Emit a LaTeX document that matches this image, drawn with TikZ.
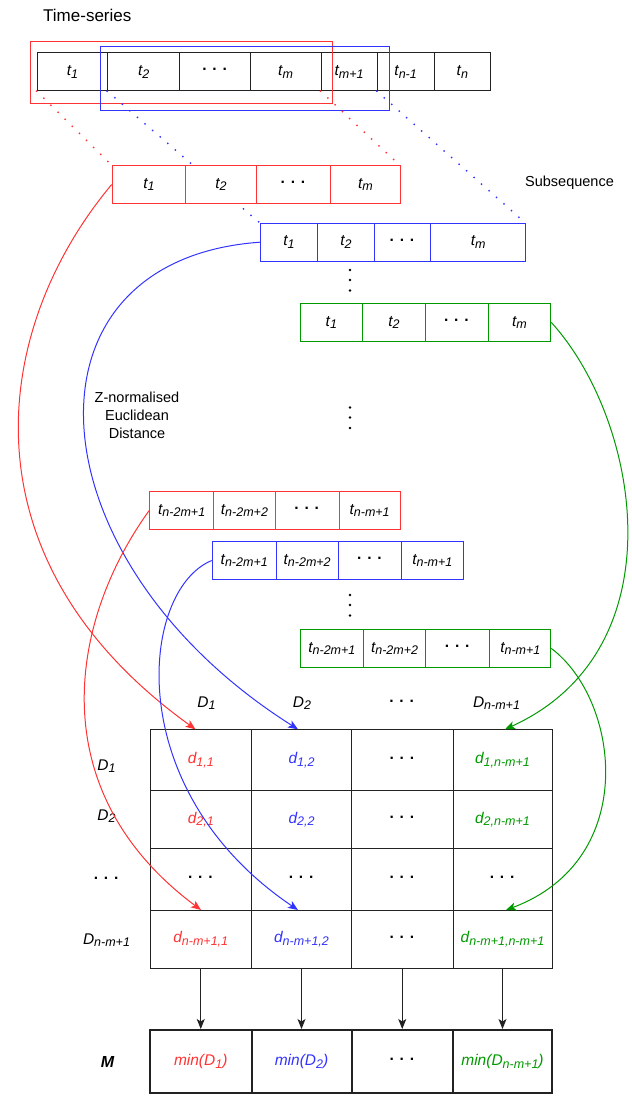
\documentclass[tikz,border=0pt]{standalone}
\usepackage{fontspec}
\setmainfont{Liberation Sans}
\usetikzlibrary{arrows.meta}
\definecolor{cred}{RGB}{255,51,51}
\definecolor{cblue}{RGB}{51,51,255}
\definecolor{cgreen}{RGB}{0,153,0}
\definecolor{cblack}{RGB}{34,34,34}
\newcommand\sbs[1]{\raisebox{-0.32ex}{\fontsize{12.5}{12.5}\selectfont #1}}
\newcommand\hdt{{\bfseries\upshape ·\hspace{5pt}·\hspace{5pt}·}}
\newcommand\cl[7]{%
  \pgfmathsetmacro\cw{#4-#3}\pgfmathsetmacro\cx{(#3+#4)/2}%
  \node[#1, minimum width=\cw pt, minimum height=#6pt] (#2) at (\cx,#5) {#7};}
\begin{document}
\begin{tikzpicture}[x=1pt,y=-1pt,
  cellbase/.style={rectangle, draw, fill=white, line width=1pt, inner sep=0pt,
    font=\fontsize{15.5}{17}\selectfont\itshape},
  cbk/.style={cellbase, draw=cblack},
  crd/.style={cellbase, draw=cred},
  cbl/.style={cellbase, draw=cblue},
  cgr/.style={cellbase, draw=cgreen},
  mbox/.style={cellbase, draw=cblack, line width=2pt},
  lbl/.style={inner sep=0pt, font=\fontsize{15.5}{17}\selectfont\itshape},
  plain/.style={inner sep=0pt, font=\fontsize{14.5}{18}\selectfont},
  dotc/.style={circle, fill=black, inner sep=0pt, minimum size=2.6pt},
  dotl/.style={line width=2pt, line cap=round, dash pattern=on 0pt off 10pt},
  curve/.style={line width=1pt, -{Stealth[length=10pt,width=8pt,inset=2.5pt]}},
  arr/.style={line width=1pt, cblack, -{Stealth[length=10pt,width=8pt,inset=2.5pt]}}]
\useasboundingbox (0,0) rectangle (632,1096);

% title
\node[inner sep=0pt, anchor=west, font=\fontsize{17}{20}\selectfont] (title) at (43,15) {Time-series};

% top row
\cl{cbk}{ts1}{37.2}{107.7}{71.7}{38}{t\sbs{1}}
\cl{cbk}{ts2}{107.7}{179.8}{71.7}{38}{t\sbs{2}}
\cl{cbk}{ts3}{179.8}{250.2}{71.7}{38}{\hdt}
\cl{cbk}{ts4}{250.2}{321}{71.7}{38}{t\sbs{m}}
\cl{cbk}{ts5}{321}{377.3}{71.7}{38}{t\sbs{m+1}}
\cl{cbk}{ts6}{377.3}{434}{71.7}{38}{t\sbs{n-1}}
\cl{cbk}{ts7}{434}{490.7}{71.7}{38}{t\sbs{n}}
\draw[cred, line width=1pt] (30.8,41) rectangle (332.8,103);
\draw[cblue, line width=1pt] (100,46.7) rectangle (389.5,110);

\coordinate (rsTL) at (112.2,165.7);
\coordinate (rsTR) at (400.3,165.7);
\coordinate (bsTL) at (260.3,223.3);
\coordinate (bsTR) at (525.8,223.3);
\draw[cred, dotl] (ts1.south west) -- (rsTL);
\draw[cred, dotl] (ts5.south west) -- (rsTR);
\draw[cblue, dotl] (ts2.south west) -- (bsTL);
\draw[cblue, dotl] (ts6.south west) -- (bsTR);

\cl{crd}{rs1a}{112.2}{185.8}{184.5}{37.6}{t\sbs{1}}
\cl{crd}{rs1b}{185.8}{256.3}{184.5}{37.6}{t\sbs{2}}
\cl{crd}{rs1c}{256.3}{330.5}{184.5}{37.6}{\hdt}
\cl{crd}{rs1d}{330.5}{400.3}{184.5}{37.6}{t\sbs{m}}

\node[plain] (subseq) at (569.5,183) {Subsequence};

\cl{cbl}{bs1a}{260.3}{317.6}{242.2}{37.7}{t\sbs{1}}
\cl{cbl}{bs1b}{317.6}{374.2}{242.2}{37.7}{t\sbs{2}}
\cl{cbl}{bs1c}{374.2}{430.5}{242.2}{37.7}{\hdt}
\cl{cbl}{bs1d}{430.5}{525.8}{242.2}{37.7}{t\sbs{m}}

\node[dotc] (vd1a) at (350,270) {};
\node[dotc] (vd1b) at (350,280) {};
\node[dotc] (vd1c) at (350,290.5) {};

\cl{cgr}{gs1a}{300}{362.7}{322.4}{37.3}{t\sbs{1}}
\cl{cgr}{gs1b}{362.7}{425.4}{322.4}{37.3}{t\sbs{2}}
\cl{cgr}{gs1c}{425.4}{488.1}{322.4}{37.3}{\hdt}
\cl{cgr}{gs1d}{488.1}{550.8}{322.4}{37.3}{t\sbs{m}}

\node[plain, align=center] (zed) at (137,415) {Z-normalised\\Euclidean\\Distance};
\node[dotc] (vd2a) at (350,407.5) {};
\node[dotc] (vd2b) at (350,417.5) {};
\node[dotc] (vd2c) at (350,428) {};

\cl{crd}{rs2a}{149.8}{213.6}{510.4}{37.3}{t\sbs{n-2m+1}}
\cl{crd}{rs2b}{213.6}{275.3}{510.4}{37.3}{t\sbs{n-2m+2}}
\cl{crd}{rs2c}{275.3}{339}{510.4}{37.3}{\hdt}
\cl{crd}{rs2d}{339}{400.3}{510.4}{37.3}{t\sbs{n-m+1}}

\cl{cbl}{bs2a}{212.2}{276.3}{560.5}{37.6}{t\sbs{n-2m+1}}
\cl{cbl}{bs2b}{276.3}{338}{560.5}{37.6}{t\sbs{n-2m+2}}
\cl{cbl}{bs2c}{338}{401.7}{560.5}{37.6}{\hdt}
\cl{cbl}{bs2d}{401.7}{463}{560.5}{37.6}{t\sbs{n-m+1}}

\node[dotc] (vd3a) at (350,595) {};
\node[dotc] (vd3b) at (350,605) {};
\node[dotc] (vd3c) at (350,615.5) {};

\cl{cgr}{gs2a}{300}{363.7}{648.4}{37.3}{t\sbs{n-2m+1}}
\cl{cgr}{gs2b}{363.7}{425.4}{648.4}{37.3}{t\sbs{n-2m+2}}
\cl{cgr}{gs2c}{425.4}{489.8}{648.4}{37.3}{\hdt}
\cl{cgr}{gs2d}{489.8}{550.8}{648.4}{37.3}{t\sbs{n-m+1}}

\node[lbl] (c1) at (206.5,703) {D\sbs{1}};
\node[lbl] (c2) at (302,703) {D\sbs{2}};
\node[lbl] (c3) at (402,703) {\hdt};
\node[lbl] (c4) at (496.5,703) {D\sbs{n-m+1}};
\node[lbl] (r1) at (106.5,766) {D\sbs{1}};
\node[lbl] (r2) at (106.5,816) {D\sbs{2}};
\node[lbl] (r3) at (106.5,880) {\hdt};
\node[lbl] (r4) at (106.5,940) {D\sbs{n-m+1}};

\cl{cbk, text=cred}{m11}{150}{251.5}{760}{61.4}{d\sbs{1,1}}
\cl{cbk, text=cblue}{m12}{251.5}{351.5}{760}{61.4}{d\sbs{1,2}}
\cl{cbk}{m13}{351.5}{453}{760}{61.4}{\hdt}
\cl{cbk, text=cgreen}{m14}{453}{552}{760}{61.4}{d\sbs{1,n-m+1}}
\cl{cbk, text=cred}{m21}{150}{251.5}{819.5}{57.6}{d\sbs{2,1}}
\cl{cbk, text=cblue}{m22}{251.5}{351.5}{819.5}{57.6}{d\sbs{2,2}}
\cl{cbk}{m23}{351.5}{453}{819.5}{57.6}{\hdt}
\cl{cbk, text=cgreen}{m24}{453}{552}{819.5}{57.6}{d\sbs{2,n-m+1}}
\cl{cbk}{m31}{150}{251.5}{879.2}{61.7}{\hdt}
\cl{cbk}{m32}{251.5}{351.5}{879.2}{61.7}{\hdt}
\cl{cbk}{m33}{351.5}{453}{879.2}{61.7}{\hdt}
\cl{cbk}{m34}{453}{552}{879.2}{61.7}{\hdt}
\cl{cbk, text=cred}{m41}{150}{251.5}{939}{58}{d\sbs{n-m+1,1}}
\cl{cbk, text=cblue}{m42}{251.5}{351.5}{939}{58}{d\sbs{n-m+1,2}}
\cl{cbk}{m43}{351.5}{453}{939}{58}{\hdt}
\cl{cbk, text=cgreen}{m44}{453}{552}{939}{58}{d\sbs{n-m+1,n-m+1}}

\node[inner sep=0pt, font=\fontsize{16}{18}\selectfont\bfseries\itshape] (mlab) at (107.6,1061.5) {M};
\cl{mbox, text=cred}{M1}{150}{251.5}{1061.5}{63}{min(D\sbs{1})}
\cl{mbox, text=cblue}{M2}{251.5}{351.5}{1061.5}{63}{min(D\sbs{2})}
\cl{mbox}{M3}{351.5}{453}{1061.5}{63}{\hdt}
\cl{mbox, text=cgreen}{M4}{453}{552}{1061.5}{63}{min(D\sbs{n-m+1})}

\draw[arr] (m41.south) -- (M1.north);
\draw[arr] (m42.south) -- (M2.north);
\draw[arr] (m43.south) -- (M3.north);
\draw[arr] (m44.south) -- (M4.north);

\coordinate (er1) at (195.5,729.3);
\coordinate (eb1) at (298,729.3);
\coordinate (eg1) at (505,729.3);
\coordinate (er2) at (201,910);
\coordinate (eb2) at (298,910);
\coordinate (eg2) at (506,910);

\draw[curve, cred] (rs1a.west) .. controls (-10,330) and (-40,560) .. (er1);
\draw[curve, cblue] (bs1a.west) .. controls (10,260) and (30,560) .. (eb1);
\draw[curve, cgreen] (gs1d.east) .. controls (640,420) and (680,650) .. (eg1);
\draw[curve, cred] (rs2a.west) .. controls (70,620) and (40,790) .. (er2);
\draw[curve, cblue] (bs2a.west) .. controls (140,590) and (120,790) .. (eb2);
\draw[curve, cgreen] (gs2d.east) .. controls (620,700) and (640,860) .. (eg2);
\end{tikzpicture}
\end{document}
